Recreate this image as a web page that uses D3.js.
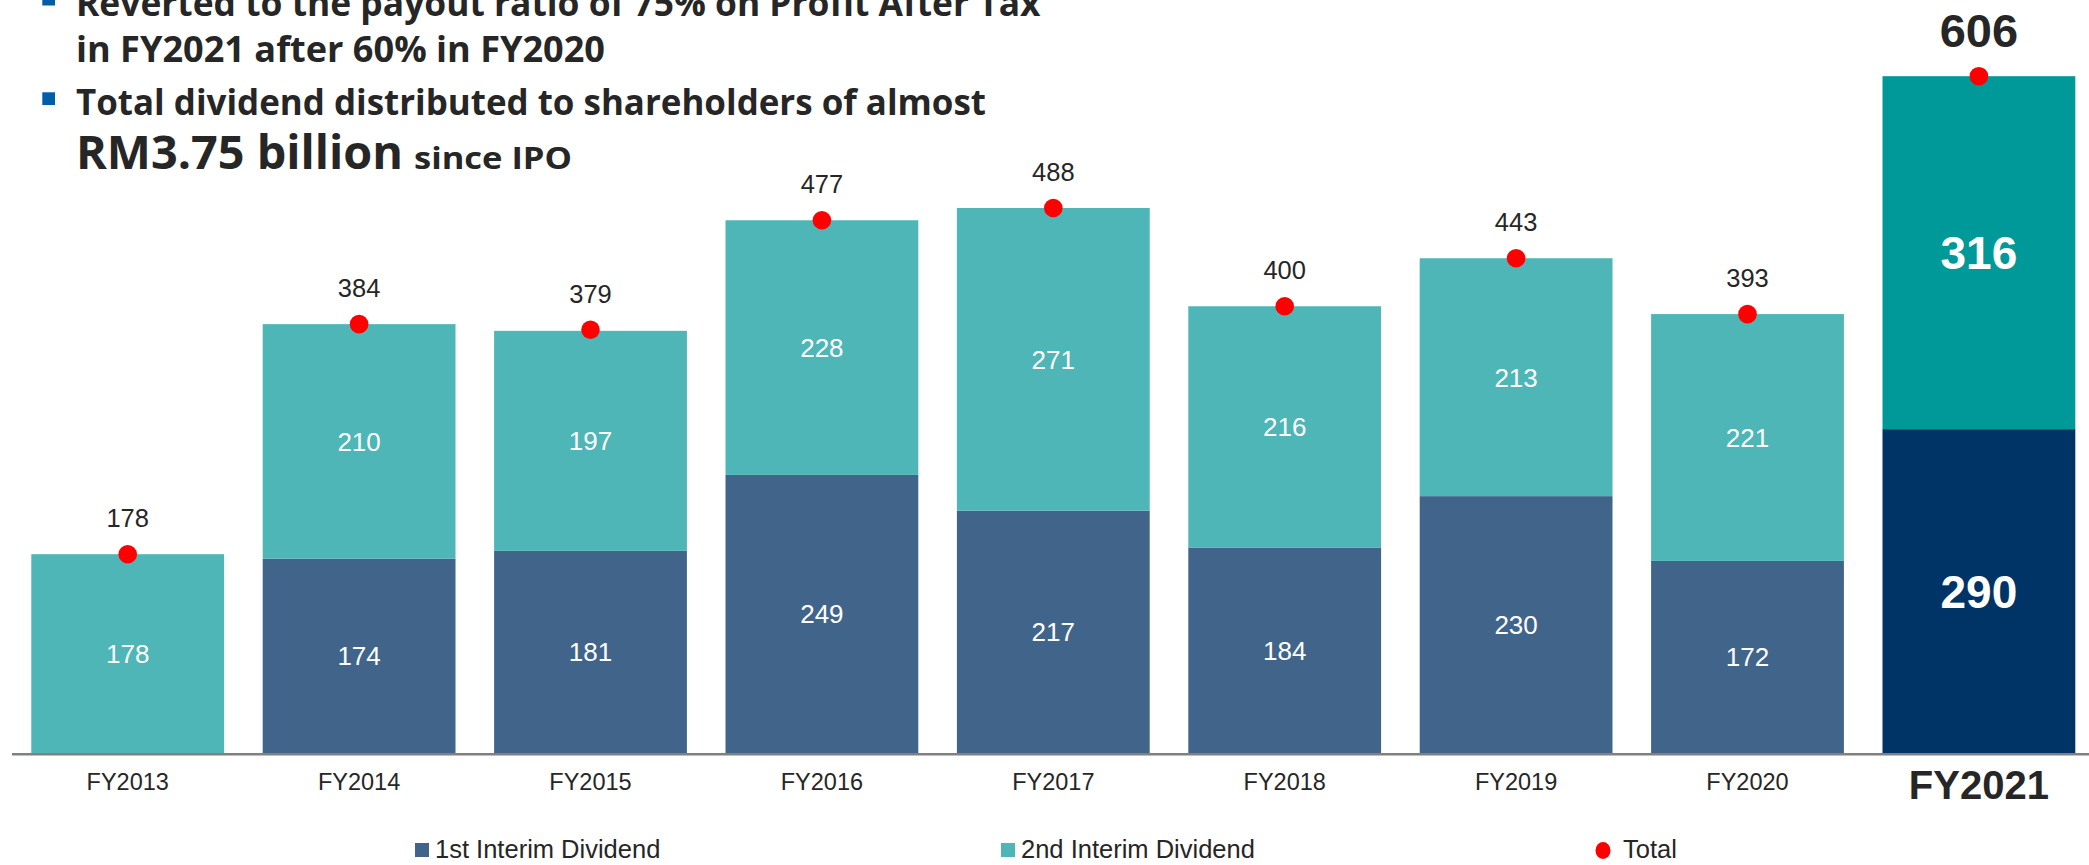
<!DOCTYPE html>
<html>
<head>
<meta charset="utf-8">
<script src="https://cdn.jsdelivr.net/npm/d3@7"></script>
<style>
  html, body { margin: 0; padding: 0; background: #ffffff; }
  svg { display: block; }
</style>
</head>
<body>
<svg id="chart" width="2089" height="865"></svg>
<script>
// ---------- data ----------
const categories = ["FY2013","FY2014","FY2015","FY2016","FY2017","FY2018","FY2019","FY2020","FY2021"];
const firstInterim  = [0, 174, 181, 249, 217, 184, 230, 172, 290];
const secondInterim = [178, 210, 197, 228, 271, 216, 213, 221, 316];
const totals        = [178, 384, 379, 477, 488, 400, 443, 393, 606];
const highlightCategory = "FY2021";
const seriesNames = ["1st Interim Dividend", "2nd Interim Dividend", "Total"];
const bulletLines = [
  "Reverted to the payout ratio of 75% on Profit After Tax",
  "in FY2021 after 60% in FY2020",
  "Total dividend distributed to shareholders of almost"
];
const headlineBig = "RM3.75 billion";
const headlineSmall = "since IPO";

// ---------- styles ----------
const C = {
  first: "#41658A", second: "#4EB6B6",
  firstHi: "#003366", secondHi: "#009999",
  dot: "#FF0000", text: "#262626", axis: "#808080", bullet: "#005DAA"
};
const chartFont = "'Liberation Sans', Arial, sans-serif";
const titleFont = "'Open Sans', 'Noto Sans', sans-serif";

const svg = d3.select("#chart");
const W = 2089, H = 865;
const baseY = 753;

const rows = categories.map((c, i) => ({
  cat: c, first: firstInterim[i], second: secondInterim[i], total: totals[i],
  hi: c === highlightCategory
}));

const x = d3.scaleBand().domain(categories).range([12, 2094.6])
  .paddingInner(0.1668).paddingOuter(0.0834);
const y = d3.scaleLinear().domain([0, 606]).range([baseY, 76.2]);

// ---------- bars ----------
const g = svg.append("g");
const bars = g.selectAll("g.bar").data(rows).join("g").attr("class", "bar");

bars.filter(d => d.first > 0).append("rect")
  .attr("x", d => x(d.cat)).attr("width", x.bandwidth())
  .attr("y", d => y(d.first)).attr("height", d => y(0) - y(d.first))
  .attr("fill", d => d.hi ? C.firstHi : C.first);

bars.append("rect")
  .attr("x", d => x(d.cat)).attr("width", x.bandwidth())
  .attr("y", d => y(d.first + d.second)).attr("height", d => y(d.first) - y(d.first + d.second))
  .attr("fill", d => d.hi ? C.secondHi : C.second);

// segment labels
bars.filter(d => d.first > 0).append("text")
  .attr("x", d => x(d.cat) + x.bandwidth() / 2)
  .attr("y", d => (y(0) + y(d.first)) / 2)
  .attr("dy", "0.36em")
  .attr("text-anchor", "middle")
  .attr("fill", "#ffffff")
  .style("font-family", chartFont)
  .style("font-size", d => d.hi ? "46px" : "26px")
  .style("font-weight", d => d.hi ? "700" : "400")
  .text(d => d.first);

bars.append("text")
  .attr("x", d => x(d.cat) + x.bandwidth() / 2)
  .attr("y", d => (y(d.first) + y(d.first + d.second)) / 2)
  .attr("dy", "0.36em")
  .attr("text-anchor", "middle")
  .attr("fill", "#ffffff")
  .style("font-family", chartFont)
  .style("font-size", d => d.hi ? "46px" : "26px")
  .style("font-weight", d => d.hi ? "700" : "400")
  .text(d => d.second);

// total dots + labels
bars.append("circle")
  .attr("cx", d => x(d.cat) + x.bandwidth() / 2)
  .attr("cy", d => y(d.total))
  .attr("r", 9.3)
  .attr("fill", C.dot);

bars.append("text")
  .attr("x", d => x(d.cat) + x.bandwidth() / 2)
  .attr("y", d => y(d.total) - (d.hi ? 29.5 : 27))
  .attr("text-anchor", "middle")
  .attr("fill", C.text)
  .style("font-family", chartFont)
  .style("font-size", d => d.hi ? "47px" : "25.5px")
  .style("font-weight", d => d.hi ? "700" : "400")
  .text(d => d.total);

// ---------- x axis ----------
const xAxis = d3.axisBottom(x).tickSize(0).tickPadding(0);
const ax = svg.append("g").attr("transform", `translate(0,${baseY + 1.3})`).call(xAxis);
ax.select(".domain").remove();
ax.append("line").attr("x1", 12).attr("x2", W).attr("y1", 0).attr("y2", 0)
  .attr("stroke", C.axis).attr("stroke-width", 2.5);
ax.selectAll(".tick text")
  .attr("y", d => d === highlightCategory ? 45 : 35.6)
  .attr("dy", 0)
  .attr("fill", C.text)
  .style("font-family", chartFont)
  .style("font-size", d => d === highlightCategory ? "40px" : "23.5px")
  .style("font-weight", d => d === highlightCategory ? "700" : "400");

// ---------- legend ----------
const legY = 849;
const leg = svg.append("g").style("font-family", chartFont).style("font-size", "25.5px");
const legendItems = [
  { name: seriesNames[0], color: C.first, type: "rect", x: 415 },
  { name: seriesNames[1], color: C.second, type: "rect", x: 1001 },
  { name: seriesNames[2], color: C.dot, type: "circle", x: 1595 }
];
legendItems.forEach(it => {
  if (it.type === "rect") {
    leg.append("rect").attr("x", it.x).attr("y", legY - 6).attr("width", 14).attr("height", 14).attr("fill", it.color);
    leg.append("text").attr("x", it.x + 20).attr("y", legY).attr("dy", "0.35em").attr("fill", C.text).text(it.name);
  } else {
    leg.append("ellipse").attr("cx", it.x + 8).attr("cy", legY + 1.5).attr("rx", 7.5).attr("ry", 8.5).attr("fill", it.color);
    leg.append("text").attr("x", it.x + 28).attr("y", legY).attr("dy", "0.35em").attr("fill", C.text).text(it.name);
  }
});

// ---------- headline text ----------
const t = svg.append("g").style("font-family", titleFont).style("font-weight", "700").attr("fill", C.text);
const lineSpecs = [
  { y: 15.5, w: 964.5 },
  { y: 61.7, w: 529 },
  { y: 115, w: 910 }
];
bulletLines.forEach((s, i) => {
  t.append("text").attr("x", 76).attr("y", lineSpecs[i].y)
    .style("font-size", "36px")
    .attr("textLength", lineSpecs[i].w).attr("lengthAdjust", "spacingAndGlyphs")
    .text(s);
});
[0, 2].forEach(i => {
  svg.append("rect").attr("x", 42.3).attr("y", lineSpecs[i].y - 22.7)
    .attr("width", 12.7).attr("height", 12.7).attr("fill", C.bullet);
});
t.append("text").attr("x", 76).attr("y", 169.3)
  .style("font-size", "46px")
  .attr("textLength", 327).attr("lengthAdjust", "spacingAndGlyphs")
  .text(headlineBig);
t.append("text").attr("x", 414).attr("y", 169.3)
  .style("font-size", "31px")
  .attr("textLength", 158).attr("lengthAdjust", "spacingAndGlyphs")
  .text(headlineSmall);
</script>
</body>
</html>
